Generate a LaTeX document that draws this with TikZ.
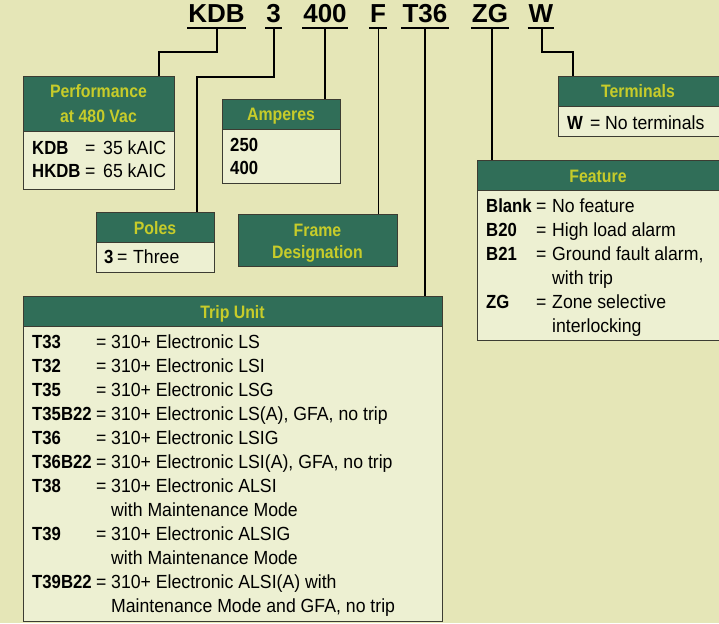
\documentclass[tikz,border=0pt]{standalone}
\usepackage{fontspec}
\setmainfont{Liberation Sans}[FakeStretch=0.93, BoldFeatures={FakeStretch=0.88}]
\newfontfamily\codefont{Liberation Sans}
\definecolor{bgcol}{RGB}{229,230,183}
\definecolor{hdrgreen}{RGB}{48,110,88}
\definecolor{hdrtext}{RGB}{199,204,42}
\definecolor{bodyfill}{RGB}{237,240,210}
\definecolor{boxline}{RGB}{60,60,50}
\tikzset{
  codelbl/.style={anchor=base, inner sep=0pt, font=\codefont\bfseries\fontsize{26}{30}\selectfont},
  uline/.style={line width=2pt, black},
  conn/.style={line width=1.3pt, black},
  hbox/.style={draw=boxline, fill=hdrgreen, line width=1pt, anchor=north west, inner sep=0pt},
  bbox/.style={draw=boxline, fill=bodyfill, line width=1pt, anchor=north west, inner sep=0pt},
  htxt/.style={anchor=base, inner sep=0pt, text=hdrtext, font=\bfseries\fontsize{18}{22}\selectfont},
  tx/.style={anchor=base west, inner sep=0pt, font=\fontsize{19}{24}\selectfont},
  tb/.style={tx, font=\bfseries\fontsize{19}{24}\selectfont}
}
\begin{document}
\begin{tikzpicture}[x=1pt,y=-1pt]
\fill[bgcol] (0,0) rectangle (719,623);
\useasboundingbox (0,0) rectangle (719,623);

% code labels
\node[codelbl] (cKDB) at (216.5,23) {KDB};
\node[codelbl] (c3) at (273.5,23) {3};
\node[codelbl] (c400) at (325,23) {400};
\node[codelbl] (cF) at (378,23) {F};
\node[codelbl] (cT36) at (425,23) {T36};
\node[codelbl] (cZG) at (490,23) {ZG};
\node[codelbl] (cW) at (541,23) {W};
\foreach \n in {cKDB,c3,c400,cF,cT36,cZG,cW}{
  \draw[uline] ([xshift=-1pt,yshift=-5.3pt]\n.base west) -- ([xshift=1pt,yshift=-5.3pt]\n.base east);
}
\coordinate (uKDB) at (217,29);
\coordinate (u3) at (274,29);
\coordinate (u400) at (325,29);
\coordinate (uF) at (378.5,29);
\coordinate (uT36) at (425,29);
\coordinate (uZG) at (492,29);
\coordinate (uW) at (542,29);

% boxes
\node[hbox, minimum width=151pt, minimum height=55pt] (perfH) at (23,76) {};
\node[bbox, minimum width=151pt, minimum height=58pt] (perfB) at (23,131) {};
\node[hbox, minimum width=118pt, minimum height=30pt] (ampH) at (222,99) {};
\node[bbox, minimum width=118pt, minimum height=54pt] (ampB) at (222,129) {};
\node[hbox, minimum width=118pt, minimum height=30pt] (polesH) at (96,212) {};
\node[bbox, minimum width=118pt, minimum height=30pt] (polesB) at (96,242) {};
\node[hbox, minimum width=159pt, minimum height=52pt] (frameH) at (238,214) {};
\node[hbox, minimum width=419pt, minimum height=30pt] (tripH) at (23,296) {};
\node[bbox, minimum width=419pt, minimum height=295pt] (tripB) at (23,326) {};
\node[hbox, minimum width=170pt, minimum height=30pt] (termH) at (558,76) {};
\node[bbox, minimum width=170pt, minimum height=30pt] (termB) at (558,106) {};
\node[hbox, minimum width=250pt, minimum height=30pt] (featH) at (477,160) {};
\node[bbox, minimum width=250pt, minimum height=150pt] (featB) at (477,190) {};

% connectors
\coordinate (kbend) at (159,52);
\coordinate (pbend) at (197,77);
\coordinate (wbend) at (573,52);
\draw[conn] (uKDB) |- (kbend) -- (kbend |- perfH.north);
\draw[conn] (u3) |- (pbend) -- (pbend |- polesH.north);
\draw[conn] (u400) -- (u400 |- ampH.north);
\draw[conn] (uF) -- (uF |- frameH.north);
\draw[conn] (uT36) -- (uT36 |- tripH.north);
\draw[conn] (uZG) -- (uZG |- featH.north);
\draw[conn] (uW) |- (wbend) -- (wbend |- termH.north);

% header texts
\node[htxt] (perfT1) at (98.5,98) {Performance};
\node[htxt] (perfT2) at (98.5,122) {at 480 Vac};
\node[htxt] (ampT) at (281,121) {Amperes};
\node[htxt] (polesT) at (155,234) {Poles};
\node[htxt] (frameT1) at (317.5,236) {Frame};
\node[htxt] (frameT2) at (317.5,258) {Designation};
\node[htxt] (tripT) at (232.5,318) {Trip Unit};
\node[htxt] (termT) at (638,98) {Terminals};
\node[htxt] (featT) at (598,182) {Feature};

% performance body
\node[tb] (p1c) at (32,154) {KDB};
\node[tx] (p1e) at (85,154) {=};
\node[tx] (p1d) at (103,154) {35 kAIC};
\node[tb] (p2c) at (32,177) {HKDB};
\node[tx] (p2e) at (85,177) {=};
\node[tx] (p2d) at (103,177) {65 kAIC};

% amperes body
\node[tb] (a1) at (230,151) {250};
\node[tb] (a2) at (230,174) {400};

% poles body
\node[tb] (po1c) at (104,263) {3};
\node[tx] (po1e) at (117,263) {=};
\node[tx] (po1d) at (133,263) {Three};

% terminals body
\node[tb] (te1c) at (567,129) {W};
\node[tx] (te1e) at (590,129) {=};
\node[tx] (te1d) at (605,129) {No terminals};

% feature body
\node[tb] (f1c) at (486,212) {Blank};
\node[tx] (f1e) at (536,212) {=};
\node[tx] (f1d) at (552,212) {No feature};
\node[tb] (f2c) at (486,236) {B20};
\node[tx] (f2e) at (536,236) {=};
\node[tx] (f2d) at (552,236) {High load alarm};
\node[tb] (f3c) at (486,260) {B21};
\node[tx] (f3e) at (536,260) {=};
\node[tx] (f3d) at (552,260) {Ground fault alarm,};
\node[tx] (f4d) at (552,284) {with trip};
\node[tb] (f5c) at (486,308) {ZG};
\node[tx] (f5e) at (536,308) {=};
\node[tx] (f5d) at (552,308) {Zone selective};
\node[tx] (f6d) at (552,332) {interlocking};

% trip unit body
\node[tb] (t1c) at (32,348) {T33};
\node[tx] (t1e) at (96,348) {=};
\node[tx] (t1d) at (111,348) {310+ Electronic LS};
\node[tb] (t2c) at (32,372) {T32};
\node[tx] (t2e) at (96,372) {=};
\node[tx] (t2d) at (111,372) {310+ Electronic LSI};
\node[tb] (t3c) at (32,396) {T35};
\node[tx] (t3e) at (96,396) {=};
\node[tx] (t3d) at (111,396) {310+ Electronic LSG};
\node[tb] (t4c) at (32,420) {T35B22};
\node[tx] (t4e) at (96,420) {=};
\node[tx] (t4d) at (111,420) {310+ Electronic LS(A), GFA, no trip};
\node[tb] (t5c) at (32,444) {T36};
\node[tx] (t5e) at (96,444) {=};
\node[tx] (t5d) at (111,444) {310+ Electronic LSIG};
\node[tb] (t6c) at (32,468) {T36B22};
\node[tx] (t6e) at (96,468) {=};
\node[tx] (t6d) at (111,468) {310+ Electronic LSI(A), GFA, no trip};
\node[tb] (t7c) at (32,492) {T38};
\node[tx] (t7e) at (96,492) {=};
\node[tx] (t7d) at (111,492) {310+ Electronic ALSI};
\node[tx] (t8d) at (111,516) {with Maintenance Mode};
\node[tb] (t9c) at (32,540) {T39};
\node[tx] (t9e) at (96,540) {=};
\node[tx] (t9d) at (111,540) {310+ Electronic ALSIG};
\node[tx] (t10d) at (111,564) {with Maintenance Mode};
\node[tb] (t11c) at (32,588) {T39B22};
\node[tx] (t11e) at (96,588) {=};
\node[tx] (t11d) at (111,588) {310+ Electronic ALSI(A) with};
\node[tx] (t12d) at (111,612) {Maintenance Mode and GFA, no trip};
\end{tikzpicture}
\end{document}
